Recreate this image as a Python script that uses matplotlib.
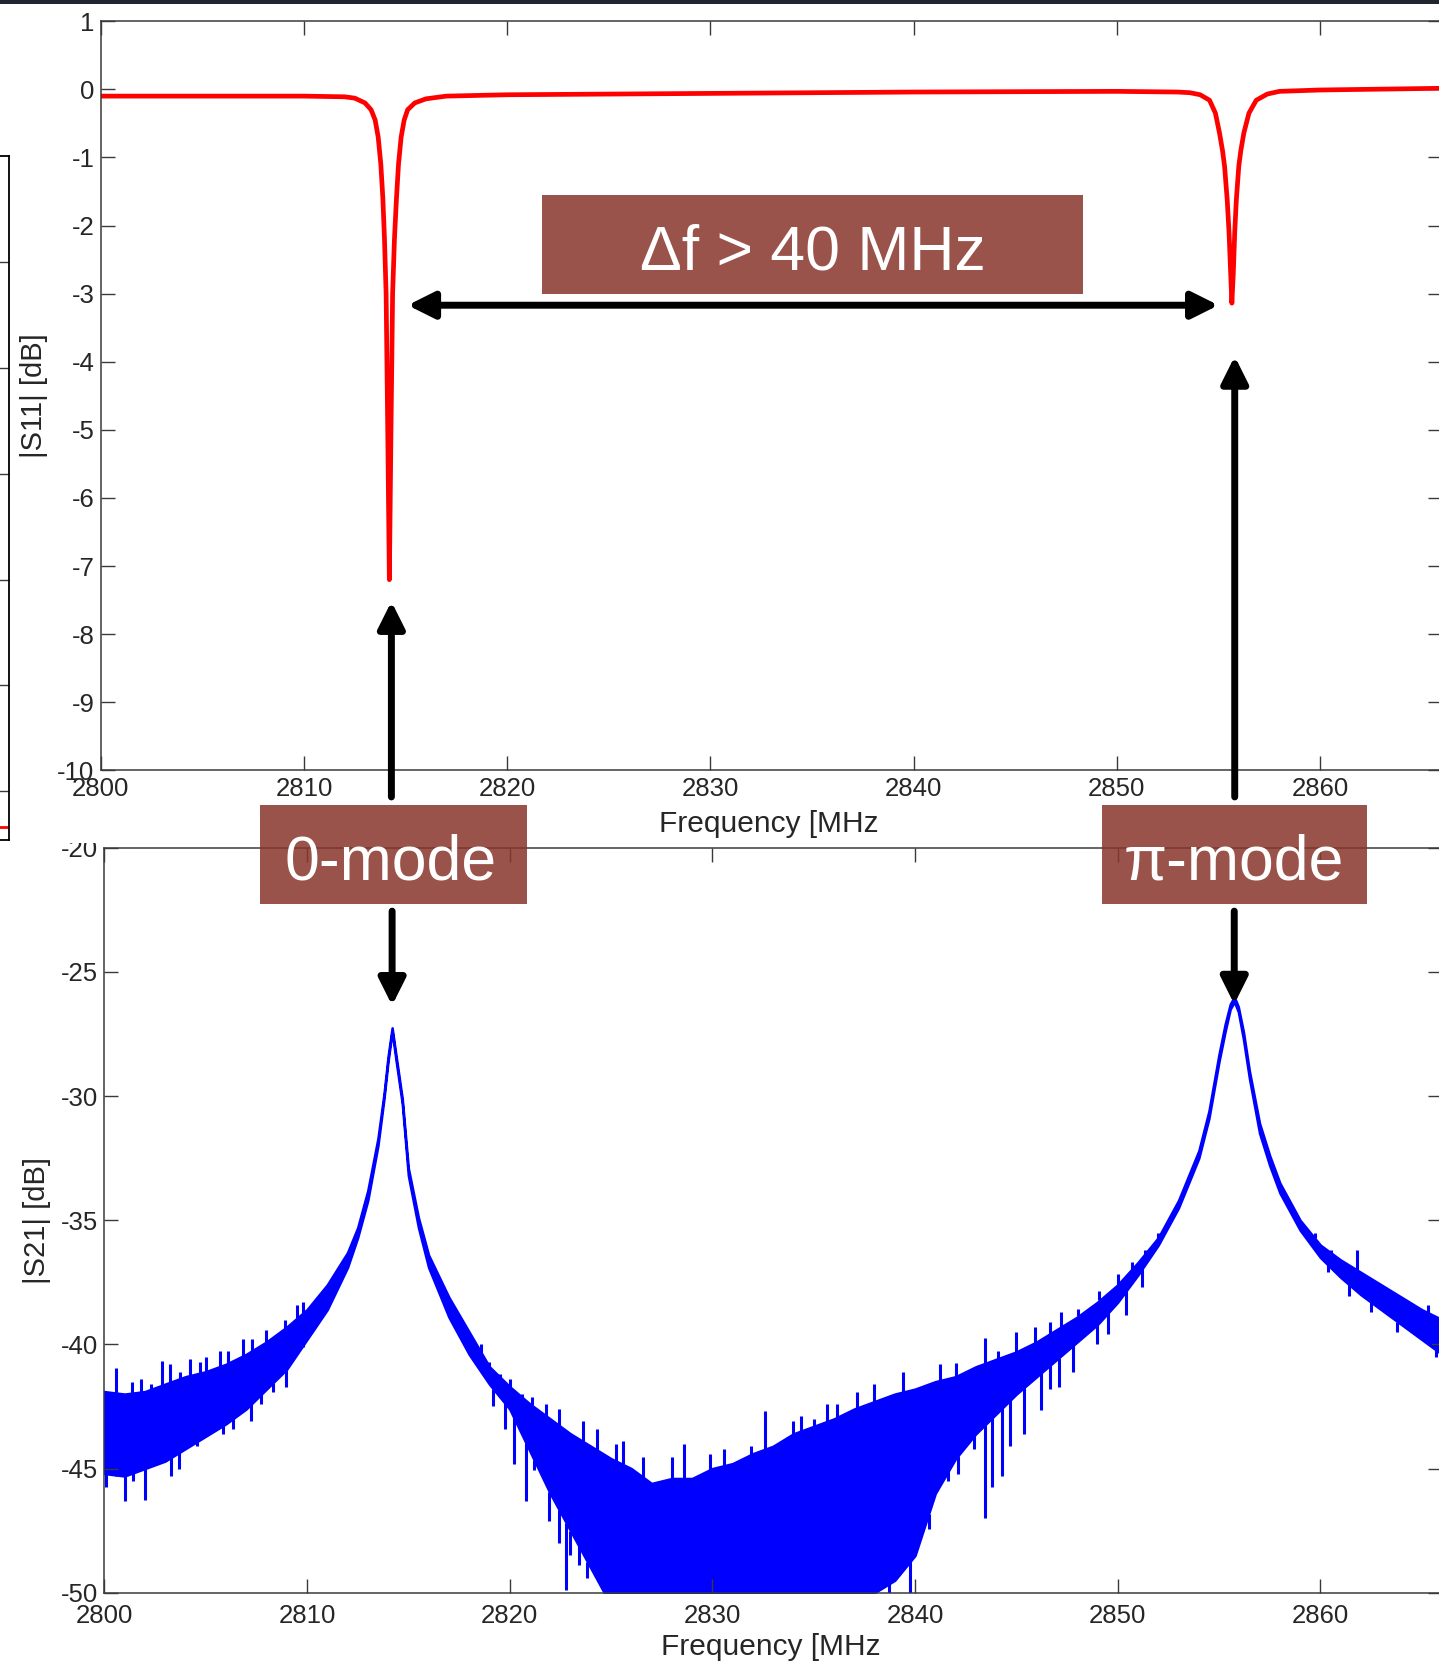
import matplotlib
matplotlib.use('Agg')
import matplotlib.pyplot as plt
import numpy as np
from matplotlib import font_manager
from matplotlib.patches import Rectangle

# ---- data ----
freq_ticks = [2800, 2810, 2820, 2830, 2840, 2850, 2860]

# |S11| (red trace), MHz / dB
s11_freq = [2800.0, 2805.0, 2810.0, 2812.0, 2812.5, 2813.0, 2813.3, 2813.5, 2813.65,
            2813.78, 2813.88, 2813.96, 2814.04, 2814.12, 2814.2, 2814.28, 2814.36,
            2814.45, 2814.55, 2814.65, 2814.78, 2814.93, 2815.1, 2815.45, 2816.0,
            2817.0, 2820.0, 2830.0, 2840.0, 2850.0, 2853.0, 2853.6, 2854.1, 2854.56,
            2854.85, 2855.05, 2855.2, 2855.3, 2855.43, 2855.52, 2855.6, 2855.66,
            2855.73, 2855.8, 2855.88, 2856.0, 2856.1, 2856.25, 2856.5, 2856.86,
            2857.4, 2858.0, 2860.0, 2866.0]
s11_db = [-0.10, -0.10, -0.10, -0.11, -0.13, -0.20, -0.30, -0.45, -0.70,
          -1.10, -1.60, -2.20, -3.00, -5.00, -7.20, -5.00, -3.00,
          -2.20, -1.60, -1.10, -0.70, -0.45, -0.30, -0.20, -0.14,
          -0.10, -0.08, -0.06, -0.04, -0.03, -0.04, -0.05, -0.08, -0.16,
          -0.35, -0.64, -0.90, -1.13, -1.62, -2.10, -2.70, -3.14,
          -2.70, -2.10, -1.62, -1.13, -0.90, -0.64, -0.35, -0.16,
          -0.07, -0.03, -0.01, 0.015]

# |S21| (blue trace): core of the noise band, upper and lower edge
s21_freq = [2800, 2801, 2802, 2803, 2804, 2805, 2806, 2807, 2808, 2809, 2810, 2811, 2812,
            2812.5, 2813, 2813.5, 2813.8, 2814.0, 2814.2, 2814.4, 2814.7, 2815.0, 2815.5,
            2816, 2817, 2818, 2819, 2820, 2821, 2822, 2823, 2824, 2825, 2826, 2827,
            2828, 2829, 2830, 2831, 2832, 2833, 2834, 2835, 2836, 2837, 2838, 2839,
            2840, 2841, 2842, 2843, 2844, 2845, 2846, 2847, 2848, 2849, 2850, 2851,
            2852, 2853,
            2853.5, 2854, 2854.5, 2855, 2855.3, 2855.55, 2855.75, 2855.95, 2856.2, 2856.5,
            2857, 2857.5, 2858,
            2859, 2860, 2861, 2862, 2863, 2864, 2865, 2866]
s21_upper = [-41.9, -42.0, -41.9, -41.6, -41.3, -41.1, -40.8, -40.4, -39.9, -39.3, -38.6, -37.6, -36.3,
             -35.3, -33.8, -31.7, -29.9, -28.4, -27.25, -28.4, -30.1, -32.9, -34.9,
             -36.4, -38.1, -39.5, -40.9, -41.7, -42.4, -43.0, -43.6, -44.1, -44.6, -45.0, -45.6,
             -45.4, -45.4, -45.0, -44.8, -44.4, -44.1, -43.6, -43.3, -43.0, -42.6, -42.3, -42.0,
             -41.8, -41.5, -41.3, -40.9, -40.6, -40.3, -39.9, -39.4, -38.9, -38.3, -37.6, -36.7,
             -35.7, -34.2,
             -33.2, -32.2, -30.6, -28.3, -27.1, -26.3, -26.0, -26.4, -27.4, -29.0,
             -31.1, -32.4, -33.5,
             -35.0, -36.0, -36.6, -37.1, -37.6, -38.1, -38.6, -39.0]
s21_lower = [-45.2, -45.3, -45.0, -44.7, -44.2, -43.7, -43.2, -42.6, -41.8, -41.0, -39.8, -38.6, -36.9,
             -35.7, -34.2, -32.0, -30.1, -28.6, -27.4, -28.6, -30.3, -33.2, -35.3,
             -36.9, -38.9, -40.4, -41.6, -42.6, -44.3, -46.0, -47.5, -49.0, -50.5, -50.5, -50.5,
             -50.5, -50.5, -50.5, -50.5, -50.5, -50.5, -50.5, -50.5, -50.5, -50.5, -50.0, -49.5,
             -48.5, -46.0, -44.6, -43.6, -42.8, -42.0, -41.3, -40.6, -39.9, -39.2, -38.3, -37.2,
             -36.0, -34.5,
             -33.5, -32.5, -30.9, -28.6, -27.4, -26.5, -26.2, -26.6, -27.7, -29.3,
             -31.5, -32.8, -33.9,
             -35.4, -36.5, -37.3, -38.0, -38.6, -39.2, -39.8, -40.4]

# single noise spikes sticking out above the band
up_spike_f = [2800.6, 2801.35, 2801.8, 2802.3, 2802.83, 2803.24, 2803.73, 2804.22, 2804.7,
              2805.04, 2805.7, 2806.1, 2806.85, 2807.3, 2808.0, 2808.9, 2809.5, 2809.8,
              2818.6, 2819.0, 2819.5, 2820.0, 2820.6, 2821.1, 2821.8, 2822.45, 2823.6,
              2824.3, 2825.24, 2825.57, 2826.56, 2828.0, 2828.6, 2829.9, 2830.58, 2831.9,
              2832.6, 2834.0, 2834.35, 2835.0, 2835.67, 2836.15, 2837.14, 2837.96,
              2839.4, 2841.25, 2842.0, 2843.46, 2844.1, 2845.0, 2845.9, 2846.67, 2847.2,
              2848.06, 2849.1, 2850.0, 2850.7, 2851.35, 2852.0,
              2859.72, 2860.5, 2861.8, 2862.6, 2863.8, 2865.3]
up_spike_db = [-40.96, -41.5, -41.4, -41.6, -40.68, -40.8, -41.1, -40.6, -40.7,
               -40.5, -40.25, -40.25, -39.8, -39.8, -39.4, -39.0, -38.4, -38.3,
               -40.0, -40.7, -41.2, -41.4, -42.0, -42.1, -42.4, -42.6, -43.1,
               -43.4, -44.0, -43.9, -44.55, -44.55, -44.0, -44.4, -44.2, -44.1,
               -42.7, -43.1, -42.9, -43.0, -42.4, -42.4, -41.9, -41.6,
               -41.1, -40.8, -40.75, -39.76, -40.25, -39.5, -39.3, -39.1, -38.7,
               -38.56, -37.86, -37.15, -36.7, -36.2, -35.5,
               -35.5, -36.2, -36.2, -37.4, -38.2, -38.4]

# single noise spikes hanging below the band
down_spike_f = [2800.1, 2800.6, 2801.0, 2801.43, 2802.0, 2803.3, 2803.7, 2804.55, 2805.86,
                2806.36, 2807.26, 2807.75, 2808.3, 2808.98, 2809.8,
                2819.2, 2819.75, 2820.2, 2820.8, 2821.2, 2821.96, 2822.45, 2822.8, 2823.0,
                2823.4, 2823.84,
                2837.7, 2838.2, 2838.7, 2839.2, 2839.77, 2840.67, 2841.2, 2841.65, 2842.1,
                2842.9, 2843.43, 2843.79, 2844.28, 2844.7, 2845.4, 2846.2, 2846.67, 2847.1,
                2847.8, 2848.96, 2849.5, 2850.4, 2851.2,
                2860.4, 2861.4, 2862.5, 2863.8, 2865.4, 2865.7]
down_spike_db = [-45.75, -45.3, -46.3, -45.5, -46.25, -45.3, -45.0, -44.1, -43.6,
                 -43.4, -43.1, -42.4, -41.9, -41.7, -40.1,
                 -42.5, -43.4, -44.8, -46.3, -45.05, -47.1, -48.0, -49.9, -48.5,
                 -48.9, -49.4,
                 -50.5, -48.4, -50.5, -48.6, -50.5, -47.45, -45.5, -45.5, -45.2,
                 -44.2, -47.0, -45.75, -45.3, -44.1, -43.6, -42.65, -41.8, -41.7,
                 -41.1, -40.0, -39.6, -38.8, -37.7,
                 -37.1, -38.05, -38.7, -39.5, -39.9, -40.5]

# left, mostly hidden panel: only its trace level near the bottom is visible
left_panel_level = -63.4

# mode frequencies used for the annotations (MHz)
f_zero_mode = 2814.3
f_pi_mode = 2855.8

# ---- figure ----
names = {f.name for f in font_manager.fontManager.ttflist}
tick_font = 'Liberation Sans Narrow' if 'Liberation Sans Narrow' in names else 'Liberation Sans'
plt.rcParams['font.family'] = ['Liberation Sans', 'DejaVu Sans']
plt.rcParams['axes.unicode_minus'] = False

W, H = 1439, 1662
fig = plt.figure(figsize=(W / 100, H / 100), dpi=100)


def px_box(x0, y0, x1, y1):
    return [x0 / W, 1 - y1 / H, (x1 - x0) / W, (y1 - y0) / H]


def px_rect(x0, y0, x1, y1, **kw):
    r = Rectangle((x0 / W, 1 - y1 / H), (x1 - x0) / W, (y1 - y0) / H,
                  transform=fig.transFigure, **kw)
    fig.add_artist(r)
    return r


ax_left = fig.add_axes(px_box(-300, 156, 8.5, 840))
ax_top = fig.add_axes(px_box(100.8, 21.2, 1442, 770.4))
ax_bot = fig.add_axes(px_box(104.3, 847.8, 1442, 1592.7))

axis_col = '#3a3a3a'
text_col = '#262626'

# partially visible panel on the far left
ax_left.set_xlim(0, 1)
ax_left.set_ylim(-64.6, 0)
ax_left.set_yticks([-10, -20, -30, -40, -50, -60])
ax_left.plot([0, 1], [left_panel_level, left_panel_level], color='red', lw=2)
ax_left.tick_params(left=False, right=True, bottom=False, labelleft=False,
                    labelbottom=False, direction='in', length=12, width=1.0, color=axis_col)
for s in ax_left.spines.values():
    s.set_color('black')
    s.set_linewidth(1.3)

# |S11|
ax_top.plot(s11_freq, s11_db, color='#ff0000', lw=3.4, solid_joinstyle='round')
ax_top.set_xlim(2800, 2866)
ax_top.set_ylim(-10, 1)
ax_top.set_yticks(np.arange(-10, 2, 1))
ax_top.set_xticks(freq_ticks)

# |S21|
ax_bot.fill_between(s21_freq, s21_lower, s21_upper, facecolor='#0000ff',
                    edgecolor='#0000ff', lw=1.8)
up_base = np.interp(up_spike_f, s21_freq, s21_upper)
dn_base = np.interp(down_spike_f, s21_freq, s21_lower)
ax_bot.vlines(up_spike_f, up_base, up_spike_db, color='#0000ff', lw=2.2)
ax_bot.vlines(down_spike_f, down_spike_db, dn_base, color='#0000ff', lw=2.2)
ax_bot.set_xlim(2800, 2866)
ax_bot.set_ylim(-50, -20)
ax_bot.set_yticks(np.arange(-50, -19, 5))
ax_bot.set_xticks(freq_ticks)

for ax, xpad in ((ax_top, 5), (ax_bot, 8)):
    ax.tick_params(direction='in', top=True, right=True, length=10, width=1.0,
                   color=axis_col, labelsize=18.5, labelcolor=text_col)
    ax.tick_params(axis='x', pad=xpad)
    ax.tick_params(axis='y', pad=4.5)
    for s in ax.spines.values():
        s.set_color(axis_col)
        s.set_linewidth(1.1)
    for lbl in ax.get_xticklabels() + ax.get_yticklabels():
        lbl.set_fontfamily(tick_font)

ax_top.set_xlabel('Frequency [MHz', fontsize=21.5, color=text_col)
ax_top.xaxis.set_label_coords(0.498, -0.071)
ax_top.xaxis.label.set_va('center')
ax_top.set_ylabel('|S11| [dB]', fontsize=21, color=text_col)
ax_top.yaxis.set_label_coords(-0.0499, 0.5)
ax_top.yaxis.label.set_va('center')

ax_bot.set_xlabel('Frequency [MHz', fontsize=21.5, color=text_col)
ax_bot.xaxis.set_label_coords(0.498, -0.0725)
ax_bot.xaxis.label.set_va('center')
ax_bot.set_ylabel('|S21| [dB]', fontsize=21, color=text_col)
ax_bot.yaxis.set_label_coords(-0.0504, 0.5)
ax_bot.yaxis.label.set_va('center')

# ---- arrows ----
head = '-|>,head_length=0.8,head_width=0.4'
arrow_kw = dict(arrowstyle=head, mutation_scale=20, lw=5, color='black',
                shrinkA=0, shrinkB=0)
ax_top.annotate('', xy=(f_zero_mode, -7.52), xytext=(f_zero_mode, -10.39),
                arrowprops=arrow_kw, annotation_clip=False)
ax_top.annotate('', xy=(f_pi_mode, -3.92), xytext=(f_pi_mode, -10.39),
                arrowprops=arrow_kw, annotation_clip=False)
ax_top.annotate('', xy=(2855.0, -3.17), xytext=(2815.1, -3.17),
                arrowprops=dict(arrow_kw, arrowstyle='<|-|>,head_length=0.8,head_width=0.4'),
                annotation_clip=False)
ax_bot.annotate('', xy=(f_zero_mode - 0.1, -26.35), xytext=(f_zero_mode - 0.1, -22.55),
                arrowprops=arrow_kw, annotation_clip=False)
ax_bot.annotate('', xy=(f_pi_mode - 0.05, -26.3), xytext=(f_pi_mode - 0.05, -22.55),
                arrowprops=arrow_kw, annotation_clip=False)

# ---- labelled boxes ----
box_col = '#89352a'
px_rect(541.5, 195, 1083, 293.5, facecolor=box_col, alpha=0.85, lw=0, zorder=5)
px_rect(259.6, 805.4, 526.7, 904, facecolor=box_col, alpha=0.85, lw=0, zorder=5)
px_rect(1102, 805.4, 1367, 904, facecolor=box_col, alpha=0.85, lw=0, zorder=5)
fig.text(813 / W, 1 - 270 / H, '\u0394f > 40 MHz', color='white', fontsize=45,
         ha='center', va='baseline', zorder=6)
fig.text(391 / W, 1 - 880 / H, '0-mode', color='white', fontsize=45,
         ha='center', va='baseline', zorder=6)
fig.text(1234 / W, 1 - 880 / H, '\u03c0-mode', color='white', fontsize=45,
         ha='center', va='baseline', zorder=6)

# top edge of the lower screenshot hides the top of the "-20" label
px_rect(20, 826, 99, 843, facecolor='white', lw=0, zorder=4)
# dark strip along the very top
px_rect(0, 0, W, 4, facecolor='#1f2531', lw=0, zorder=7)

fig.savefig('out.png', dpi=100)
